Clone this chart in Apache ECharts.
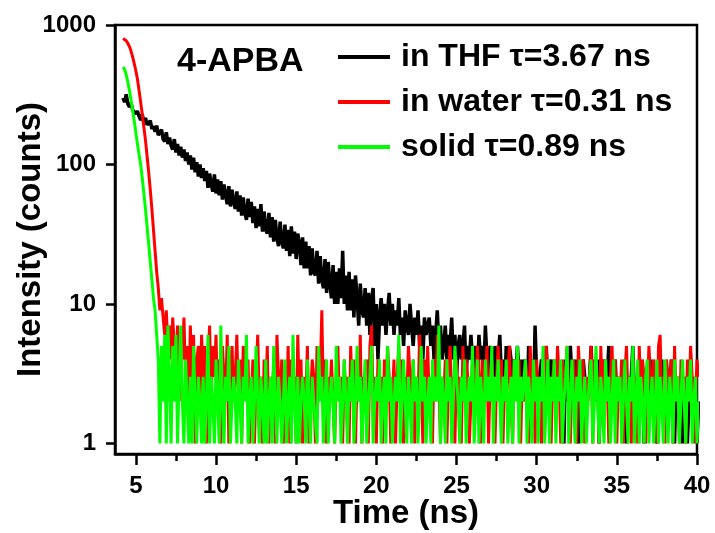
<!DOCTYPE html>
<html>
<head>
<meta charset="utf-8">
<script src="https://cdn.jsdelivr.net/npm/echarts@6/dist/echarts.min.js"></script>
<style>
html,body{margin:0;padding:0;background:#fff;}
#chart{width:715px;height:533px;}
</style>
</head>
<body>
<div id="chart"></div>
<script>
// ---- data (counts per 0.1 ns channel, starting at 4.2 ns) ----
const timeStart = 4.2;
const timeStep = 0.1;
const seriesNames = ['in THF \u03c4=3.67 ns', 'in water \u03c4=0.31 ns', 'solid \u03c4=0.89 ns'];
const seriesColors = ['#000000', '#ff0000', '#00ff00'];
const xTickLabels = [5, 10, 15, 20, 25, 30, 35, 40];
const xMinorTicks = [7.5, 12.5, 17.5, 22.5, 27.5, 32.5, 37.5];
const yTickLabels = [1, 10, 100, 1000];
const annotation = '4-APBA';

const thfCounts = [
300, 280, 318, 272, 258, 276, 246, 252, 230, 242,
222, 208, 230, 198, 216, 192, 186, 206, 180, 188,
172, 190, 162, 158, 178, 152, 146, 170, 140, 156,
136, 128, 152, 122, 140, 116, 134, 112, 128, 106,
122, 100, 116, 92, 112, 88, 104, 82, 100, 80,
94, 76, 90, 68, 86, 72, 64, 85, 62, 78,
60, 76, 56, 72, 60, 52, 70, 50, 66, 54,
48, 64, 46, 60, 43, 58, 45, 40, 57, 42,
54, 38, 50, 35, 48, 36, 52, 33, 46, 34,
32, 45, 30, 42, 28, 40, 30, 26, 39, 28,
25, 37, 24, 34, 22, 36, 23, 33, 21, 32,
27, 19, 30, 18, 28, 18, 26, 16, 25, 17,
16, 24, 14, 22, 15, 13, 21, 12, 20, 14,
11, 19, 10, 17, 10, 18, 11, 24, 10, 16,
9, 17, 9, 15, 8, 16, 11, 7, 14, 9,
8, 13, 7, 12, 6, 11, 13, 5, 10, 4,
8, 11, 7, 10, 6, 9, 12, 7, 10, 6,
9, 7, 11, 6, 8, 5, 9, 7, 6, 10,
7, 5, 8, 6, 9, 5, 7, 4, 8, 6,
6, 8, 5, 7, 4, 6, 9, 5, 7, 4,
5, 7, 4, 6, 5, 8, 4, 6, 3, 5,
6, 4, 5, 7, 3, 5, 4, 6, 4, 3,
5, 3, 6, 4, 5, 3, 7, 4, 3, 5,
4, 2, 5, 3, 4, 6, 3, 4, 2, 5,
3, 5, 4, 2, 4, 3, 5, 3, 4, 2,
4, 3, 2, 5, 3, 4, 2, 7, 3, 2,
3, 4, 2, 3, 5, 2, 3, 4, 2, 3,
2, 4, 3, 2, 3, 1, 4, 2, 3, 5,
3, 2, 4, 2, 1, 3, 2, 4, 3, 2,
2, 3, 5, 2, 3, 2, 4, 1, 3, 2,
4, 2, 3, 5, 2, 3, 2, 4, 2, 3,
2, 3, 2, 4, 1, 3, 2, 3, 5, 2,
3, 2, 4, 2, 3, 1, 2, 3, 2, 4,
2, 3, 2, 1, 3, 2, 4, 2, 3, 2,
3, 2, 4, 2, 1, 3, 2, 3, 2, 1,
2, 3, 1, 2, 4, 2, 3, 2, 1, 2
];

const waterCounts = [
800, 790, 770, 740, 700, 650, 590, 530, 470, 410,
340, 280, 230, 185, 150, 115, 88, 66, 48, 34,
24, 17, 13, 9, 11, 8, 6, 9, 5, 7,
4, 8, 5, 3, 7, 2, 6, 4, 8, 3,
5, 2, 7, 3, 6, 1, 4, 5, 2, 6,
3, 5, 1, 4, 7, 2, 5, 3, 6, 2,
4, 1, 5, 3, 2, 6, 1, 3, 5, 2,
3, 6, 2, 4, 1, 5, 3, 2, 4, 1,
2, 4, 1, 3, 6, 2, 3, 1, 4, 2,
5, 1, 3, 2, 4, 1, 6, 3, 2, 4,
1, 3, 2, 5, 1, 4, 2, 3, 1, 6,
2, 4, 1, 3, 2, 5, 1, 2, 4, 3,
1, 5, 2, 3, 9, 2, 4, 1, 3, 2,
4, 2, 1, 3, 5, 2, 3, 1, 4, 2,
3, 1, 5, 2, 4, 1, 3, 2, 6, 1,
3, 2, 4, 1, 5, 7, 2, 3, 1, 4,
2, 3, 1, 4, 2, 5, 3, 1, 2, 4,
1, 3, 5, 2, 4, 1, 3, 2, 5, 3,
2, 4, 1, 3, 2, 6, 3, 1, 4, 2,
5, 2, 3, 1, 4, 2, 6, 3, 1, 3,
2, 4, 1, 3, 5, 2, 3, 1, 4, 2,
3, 1, 5, 2, 4, 3, 1, 2, 4, 3,
2, 5, 3, 1, 4, 2, 3, 5, 1, 3,
4, 2, 1, 3, 5, 2, 4, 1, 3, 2,
3, 5, 2, 1, 4, 3, 2, 4, 1, 3,
2, 4, 3, 1, 5, 2, 3, 1, 4, 2,
3, 1, 4, 2, 5, 3, 2, 1, 3, 4,
2, 5, 3, 1, 4, 2, 3, 5, 2, 1,
3, 4, 2, 1, 5, 3, 2, 4, 1, 3,
2, 3, 5, 1, 4, 2, 3, 1, 5, 2,
4, 2, 3, 1, 3, 5, 2, 4, 1, 3,
2, 4, 1, 3, 5, 2, 3, 1, 4, 2,
3, 1, 5, 2, 4, 3, 1, 2, 5, 3,
2, 4, 3, 1, 5, 6, 2, 3, 1, 4,
3, 2, 4, 1, 5, 2, 3, 1, 4, 2,
3, 1, 4, 2, 5, 3, 1, 2, 4, 3
];

const solidCounts = [
500, 480, 440, 390, 340, 290, 245, 205, 170, 140,
118, 100, 80, 62, 48, 36, 27, 20, 15, 11,
9, 6, 4, 1, 5, 2, 6, 1, 7, 3,
1, 5, 2, 6, 1, 3, 7, 2, 1, 4,
2, 1, 3, 1, 5, 2, 1, 3, 2, 1,
3, 1, 2, 6, 1, 3, 2, 1, 4, 2,
1, 7, 2, 1, 3, 2, 5, 1, 2, 3,
2, 1, 4, 2, 1, 3, 2, 6, 1, 2,
3, 1, 2, 5, 2, 1, 3, 2, 1, 4,
1, 2, 3, 1, 5, 2, 1, 3, 2, 1,
2, 4, 1, 2, 3, 1, 6, 2, 1, 3,
1, 2, 3, 2, 1, 4, 2, 1, 3, 2,
2, 1, 5, 2, 3, 1, 2, 4, 1, 2,
3, 2, 1, 5, 2, 3, 1, 2, 4, 2,
1, 3, 2, 4, 1, 2, 5, 2, 3, 1,
2, 4, 1, 2, 3, 5, 1, 2, 3, 2,
4, 1, 2, 3, 1, 5, 2, 3, 1, 2,
3, 2, 6, 1, 2, 4, 2, 1, 3, 2,
1, 4, 2, 3, 1, 2, 5, 2, 3, 1,
2, 3, 1, 4, 2, 3, 2, 7, 1, 3,
2, 1, 4, 2, 3, 1, 2, 5, 3, 2,
1, 3, 2, 4, 1, 2, 3, 2, 5, 1,
2, 4, 1, 3, 2, 1, 4, 2, 3, 2,
5, 1, 3, 2, 4, 2, 1, 3, 2, 4,
1, 2, 3, 1, 4, 2, 5, 1, 3, 2,
2, 4, 1, 3, 2, 1, 4, 2, 3, 1,
3, 2, 5, 1, 2, 4, 1, 3, 2, 4,
1, 3, 2, 4, 1, 2, 3, 5, 1, 2,
4, 2, 1, 3, 2, 4, 1, 2, 3, 1,
2, 3, 4, 1, 2, 5, 2, 1, 3, 2,
1, 4, 2, 3, 1, 2, 4, 1, 3, 2,
3, 1, 2, 4, 2, 1, 3, 2, 5, 1,
2, 4, 1, 3, 2, 1, 3, 4, 1, 2,
3, 1, 2, 4, 1, 3, 2, 1, 4, 2,
1, 3, 2, 1, 4, 2, 3, 1, 2, 4,
2, 1, 3, 2, 4, 1, 2, 3, 1, 2
];

// ---- chart ----
const FONT = '"Liberation Sans", Arial, sans-serif';
function toPairs(counts) {
  return counts.map((v, i) => [Number((timeStart + i * timeStep).toFixed(2)), v]);
}
const allCounts = [thfCounts, waterCounts, solidCounts];
const lineWidths = [3.5, 3, 3];

const chart = echarts.init(document.getElementById('chart'), null, {renderer: 'canvas'});
const option = {
  animation: false,
  backgroundColor: '#ffffff',
  grid: {
    left: 115, right: 18, top: 25, bottom: 79,
    outerBoundsMode: 'none', containLabel: false,
    show: true, borderColor: '#000', borderWidth: 2.5, backgroundColor: 'transparent'
  },
  legend: {
    orient: 'vertical',
    left: 333, top: 36,
    itemWidth: 52, itemHeight: 4, itemGap: 13,
    icon: 'rect',
    data: seriesNames,
    textStyle: {
      fontFamily: FONT, fontSize: 32, fontWeight: 'bold', color: '#000',
      lineHeight: 30, padding: [0, 0, 0, 6]
    }
  },
  xAxis: [{
    type: 'value', min: 3.7, max: 40,
    name: 'Time (ns)', nameLocation: 'middle', nameGap: 43, nameMoveOverlap: false,
    nameTextStyle: {fontFamily: FONT, fontSize: 33, fontWeight: 'bold', color: '#000'},
    splitLine: {show: false},
    axisLine: {lineStyle: {color: '#000', width: 2.5}},
    axisTick: {customValues: xTickLabels, length: 11, lineStyle: {color: '#000', width: 2.5}},
    axisLabel: {customValues: xTickLabels, margin: 20, fontFamily: FONT, fontSize: 24,
      fontWeight: 'bold', color: '#000', formatter: v => String(v)}
  }, {
    type: 'value', min: 3.7, max: 40, position: 'bottom',
    splitLine: {show: false},
    axisLine: {show: false},
    axisTick: {customValues: xMinorTicks, length: 7, lineStyle: {color: '#000', width: 2.5}},
    axisLabel: {show: false}
  }],
  yAxis: {
    type: 'log', logBase: 10, min: 0.84, max: 1000,
    name: 'Intensity (counts)', nameLocation: 'middle', nameGap: 68, nameMoveOverlap: false,
    nameTextStyle: {fontFamily: FONT, fontSize: 33, fontWeight: 'bold', color: '#000'},
    splitLine: {show: false},
    minorTick: {show: false},
    axisLine: {lineStyle: {color: '#000', width: 2.5}},
    axisTick: {customValues: yTickLabels, length: 9, lineStyle: {color: '#000', width: 2.5}},
    axisLabel: {customValues: yTickLabels, margin: 19, fontFamily: FONT, fontSize: 24,
      fontWeight: 'bold', color: '#000', formatter: v => String(Math.round(v))}
  },
  graphic: [{
    type: 'text', left: 177, top: 45,
    style: {text: annotation, fontFamily: FONT, fontSize: 34, fontWeight: 'bold', fill: '#000'}
  }],
  series: allCounts.map((c, k) => ({
    name: seriesNames[k],
    type: 'line',
    xAxisIndex: 0,
    data: toPairs(c),
    showSymbol: false,
    symbol: 'none',
    color: seriesColors[k],
    lineStyle: {color: seriesColors[k], width: lineWidths[k]},
    emphasis: {disabled: true}
  }))
};
chart.setOption(option);
</script>
</body>
</html>
